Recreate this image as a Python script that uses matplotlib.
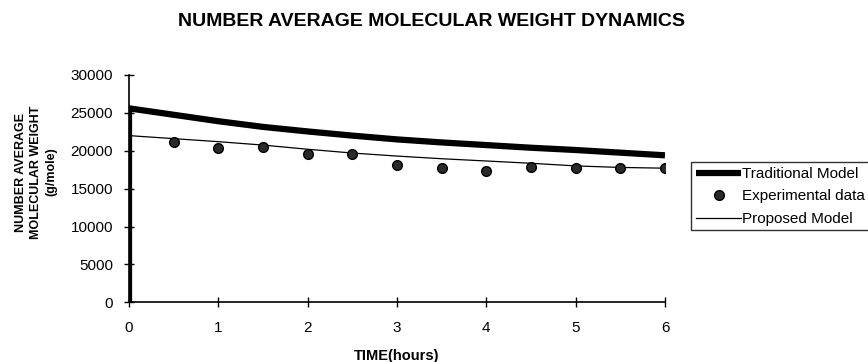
import matplotlib
matplotlib.use("Agg")
import matplotlib.pyplot as plt

plt.rcParams['font.family'] = ['Liberation Sans', 'DejaVu Sans']

# Data
time_model = [0, 0, 0.5, 1, 1.5, 2, 2.5, 3, 3.5, 4, 4.5, 5, 5.5, 6]
traditional = [0, 25600, 24750, 23900, 23150, 22550, 22000, 21500, 21100, 20750, 20400, 20100, 19750, 19400]
proposed = [0, 22000, 21600, 21200, 20750, 20200, 19700, 19300, 18950, 18650, 18350, 18000, 17800, 17700]
time_exp = [0.5, 1, 1.5, 2, 2.5, 3, 3.5, 4, 4.5, 5, 5.5, 6]
experimental = [21200, 20400, 20550, 19570, 19530, 18100, 17700, 17330, 17900, 17770, 17700, 17770]

xticks = [0, 1, 2, 3, 4, 5, 6]
yticks = [0, 5000, 10000, 15000, 20000, 25000, 30000]

fig = plt.figure(figsize=(8.68, 3.62), dpi=100)
ax = fig.add_axes([129/868, 1-302.3/362, (665-129)/868, (302.3-75)/362])

l1, = ax.plot(time_model, traditional, color='black', lw=4.5, solid_capstyle='butt',
              label='Traditional Model', zorder=3)
l2, = ax.plot(time_exp, experimental, linestyle='none', marker='o', markersize=7,
              markerfacecolor='#2a2a2a', markeredgecolor='black', label='Experimental data', zorder=4)
l3, = ax.plot(time_model, proposed, color='black', lw=0.9, label='Proposed Model', zorder=3)

ax.set_xlim(0, 6)
ax.set_ylim(0, 30000)
ax.set_xticks(xticks)
ax.set_yticks(yticks)
ax.tick_params(axis='both', direction='inout', length=7, width=1, labelsize=11, colors='black')
ax.tick_params(axis='x', pad=10)
ax.tick_params(axis='y', pad=8)
for s in ['top', 'right']:
    ax.spines[s].set_visible(False)
for s in ['left', 'bottom']:
    ax.spines[s].set_linewidth(1.2)

ax.set_xlabel('TIME(hours)', fontsize=10.5, fontweight='bold', labelpad=10)
fig.text(36/868, 1-172/362, 'NUMBER AVERAGE\nMOLECULAR WEIGHT\n(g/mole)', rotation=90,
         ha='center', va='center', fontsize=9, fontweight='bold', linespacing=1.35)

fig.text(431/868, 1-21/362, 'NUMBER AVERAGE MOLECULAR WEIGHT DYNAMICS',
         ha='center', va='center', fontsize=14, fontweight='bold')

leg = fig.legend(handles=[l1, l2, l3], loc='upper left', bbox_to_anchor=(691/868, 1-162.5/362),
                 frameon=True, fancybox=False, edgecolor='black', fontsize=11,
                 handlelength=3.0, handletextpad=0.05, borderpad=0.3, labelspacing=0.55,
                 borderaxespad=0)
leg.get_frame().set_linewidth(1.0)

fig.savefig('out.png', dpi=100)
